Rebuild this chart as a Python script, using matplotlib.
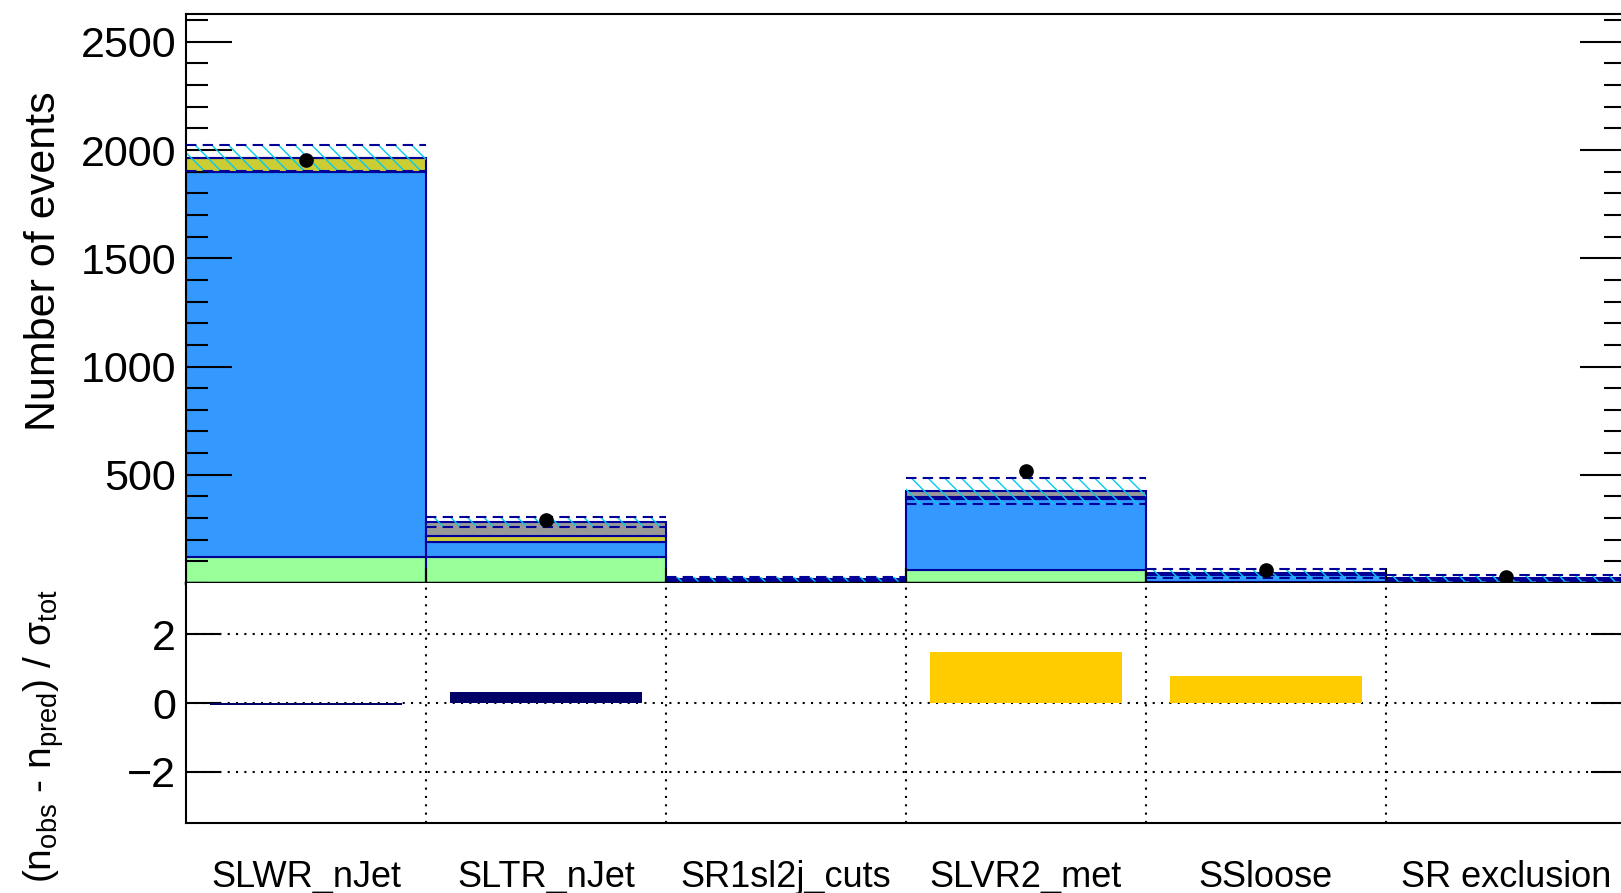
"""
Fit summary plot: stacked background yields per region with pull panel
"""

import numpy as np
import matplotlib

matplotlib.use("Agg")
import matplotlib.pyplot as plt
from matplotlib.ticker import MultipleLocator, FixedLocator

plt.rcParams["font.family"] = ["Liberation Sans", "DejaVu Sans"]
plt.rcParams["mathtext.fontset"] = "custom"
plt.rcParams["mathtext.rm"] = "Liberation Sans"
plt.rcParams["hatch.color"] = "#00CCEE"
plt.rcParams["hatch.linewidth"] = 1.0

# regions (bins)
regions = ["SLWR_nJet", "SLTR_nJet", "SR1sl2j_cuts", "SLVR2_met", "SSloose", "SR exclusion"]

# stacked backgrounds, bottom to top
bkg_green = [120, 120, 3, 62, 5, 2]
bkg_blue = [1779, 69, 10, 326, 32, 14]
bkg_olive = [64, 28, 2, 10, 3, 2]
bkg_grey = [0, 65, 3, 27, 5, 3]

# total uncertainty on the prediction
pred_err = [60, 25, 12, 60, 20, 14]

# observed data (SR1sl2j_cuts blinded)
data_obs = [1954, 290, np.nan, 516, 62, 28]

# (n_obs - n_pred) / sigma_tot
pulls = [-0.05, 0.32, 0.0, 1.5, 0.78, 0.0]
pull_colors = ["#000066", "#000066", "#000066", "#FFCC00", "#FFCC00", "#FFCC00"]

stack = [
    (bkg_green, "#99FF99"),
    (bkg_blue, "#3399FF"),
    (bkg_olive, "#CCCC33"),
    (bkg_grey, "#999999"),
]

navy = "#000099"
nbins = len(regions)
centers = np.arange(nbins) + 0.5
edges = np.arange(nbins + 1)

fig = plt.figure(figsize=(16.21, 8.93), dpi=100)
ax = fig.add_axes([0.1147, 0.3471, 0.8883, 0.6367])
axr = fig.add_axes([0.1147, 0.0784, 0.8883, 0.2687])

# --- top pad: stacked histogram ---
bottom = np.zeros(nbins)
for values, color in stack:
    values = np.array(values, dtype=float)
    ax.bar(centers, values, bottom=bottom, width=1.0, color=color,
           edgecolor=navy, linewidth=1.5, zorder=1)
    bottom = bottom + values
total = bottom

err = np.array(pred_err, dtype=float)
ax.bar(centers, 2 * err, bottom=total - err, width=1.0, fill=False,
       hatch="\\\\", edgecolor="#00CCEE", linewidth=0, zorder=2)
ax.hlines(total + err, edges[:-1], edges[1:], colors=navy, linewidth=1.5,
          linestyles=(0, (5, 3)), zorder=3)
ax.hlines(total - err, edges[:-1], edges[1:], colors=navy, linewidth=1.5,
          linestyles=(0, (5, 3)), zorder=3)

ax.plot(centers, data_obs, "o", color="black", markersize=9.5, zorder=4)

ax.set_xlim(0, nbins)
ax.set_ylim(0, 2626)
ax.yaxis.set_major_locator(FixedLocator([500, 1000, 1500, 2000, 2500]))
ax.yaxis.set_minor_locator(MultipleLocator(100))
ax.xaxis.set_major_locator(FixedLocator(edges[1:-1]))
ax.set_xticklabels([])
ax.tick_params(axis="y", which="major", direction="in", length=33, width=1.5,
               left=True, right=True, labelsize=31, pad=7)
ax.tick_params(axis="y", which="minor", direction="in", length=16, width=1.5,
               left=True, right=True)
ax.tick_params(axis="x", which="major", direction="in", length=11, width=1.5)
for side in ["left", "right", "top"]:
    ax.spines[side].set_linewidth(1.5)
ax.spines["bottom"].set_linewidth(2.5)
ax.spines["bottom"].set_zorder(5)

# --- bottom pad: pulls ---
axr.bar(centers, pulls, width=0.8, color=pull_colors, linewidth=0, zorder=2)
for yv in [-2, 0, 2]:
    axr.axhline(yv, color="black", linewidth=1.5, linestyle=(0, (1, 3)), zorder=1)
for xv in edges[1:-1]:
    axr.axvline(xv, color="black", linewidth=1.5, linestyle=(0, (1, 3)), zorder=1)

axr.set_xlim(0, nbins)
axr.set_ylim(-3.5, 3.5)
axr.yaxis.set_major_locator(FixedLocator([-2, 0, 2]))
axr.set_yticklabels(["\u22122", "0", "2"])
axr.set_xticks(centers)
axr.set_xticklabels(regions)
axr.tick_params(axis="y", direction="in", length=25, width=1.5, left=True,
                right=True, labelsize=31, pad=7)
axr.tick_params(axis="x", length=0, labelsize=26, pad=27)
for side in ["left", "right", "bottom"]:
    axr.spines[side].set_linewidth(1.5)
axr.spines["top"].set_visible(False)

fig.text(0.027, 1 - 261 / 893, "Number of events", rotation=90,
         ha="center", va="center", fontsize=31)
fig.text(0.027, 1 - 736 / 893,
         r"(n$_{\mathregular{obs}}$ - n$_{\mathregular{pred}}$) / σ$_{\mathregular{tot}}$",
         rotation=90, ha="center", va="center", fontsize=28)

fig.savefig("out.png", dpi=100)
plt.close(fig)
